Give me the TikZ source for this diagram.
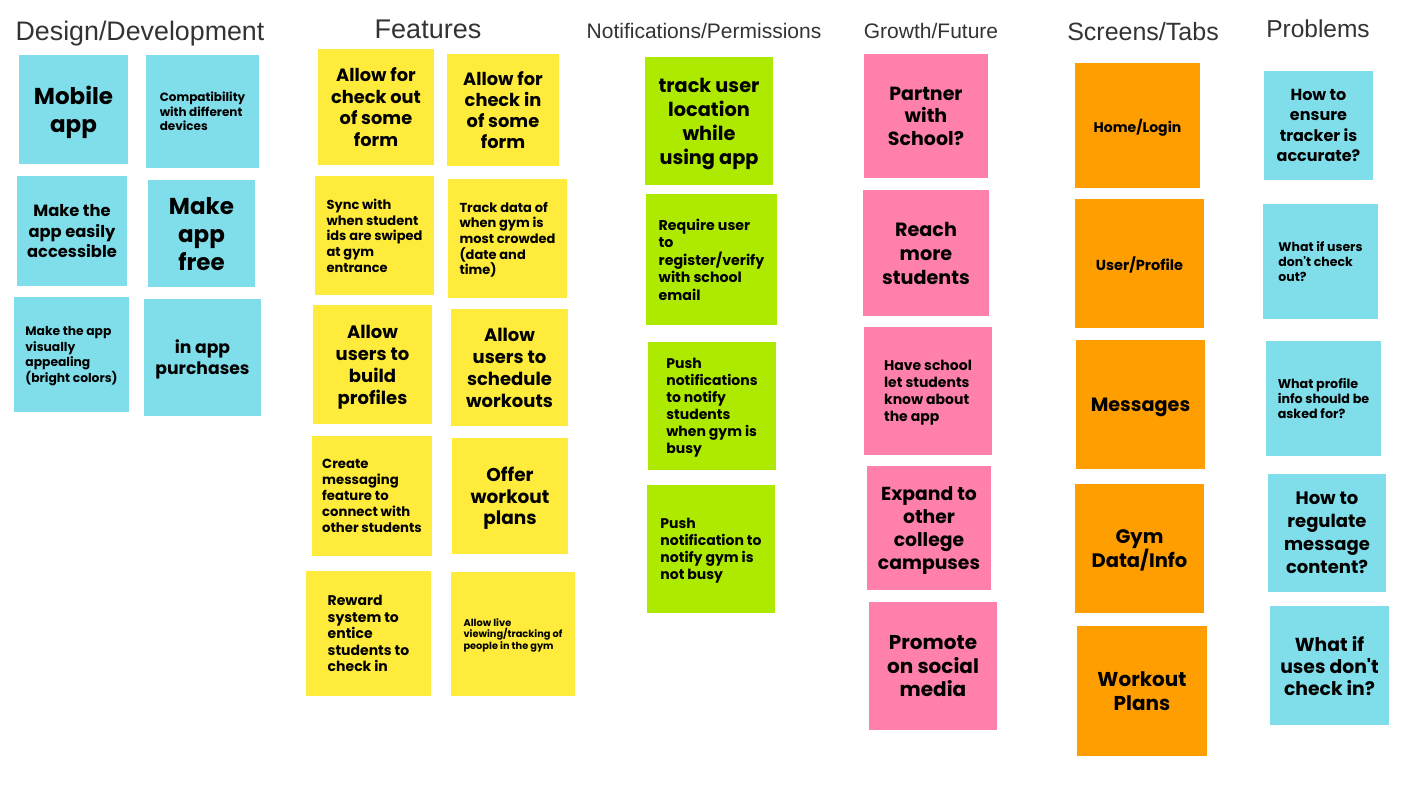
\documentclass[tikz,border=0pt]{standalone}
\usepackage{fontspec}
\setmainfont{Liberation Sans}
\newfontfamily\notefont{Poppins}
\newfontfamily\headfont{Liberation Sans}
\usepackage{xcolor}
\definecolor{headgray}{HTML}{333333}
\definecolor{cyannote}{HTML}{80DEEA}
\definecolor{yellownote}{HTML}{FFEB3B}
\definecolor{greennote}{HTML}{AEEA00}
\definecolor{pinknote}{HTML}{FF80AB}
\definecolor{orangenote}{HTML}{FF9E00}

\begin{document}
\begin{tikzpicture}[x=1pt, y=-1pt,
  heading/.style={anchor=base, text=headgray, inner sep=0pt, font=\headfont\fontsize{#1}{#1}\selectfont},
  note/.style={rectangle, inner sep=0pt, text depth=0pt, text=black, align=center},
  sq/.style={minimum width=#1, minimum height=#1},
  fs/.style 2 args={font=\notefont\bfseries\fontsize{#1}{#2}\selectfont}]
  \fill[white] (0,0) rectangle (1422,800);
  \useasboundingbox (0,0) rectangle (1422,800);

  \node[heading=26.8] (hdesign) at (140,41) {Design/Development};
  \node[heading=27] (hfeatures) at (428,38.5) {Features};
  \node[heading=21] (hnotify) at (704,38.5) {Notifications/Permissions};
  \node[heading=21] (hgrowth) at (931,38.5) {Growth/Future};
  \node[heading=25] (hscreens) at (1143,40.5) {Screens/Tabs};
  \node[heading=24.5] (hproblems) at (1318,37.5) {Problems};

  \node[note, fill=cyannote, sq=109, fs={23}{28}] (dmobile) at (73.5,109.5) {Mobile\\app};
  \node[note, fill=cyannote, sq=113, fs={12}{14.5}, align=left] (dcompat) at (202.5,111.5) {Compatibility\\with different\\devices};
  \node[note, fill=cyannote, sq=110, fs={16.3}{20.5}] (daccess) at (72,231) {Make the\\app easily\\accessible};
  \node[note, fill=cyannote, sq=107, fs={23}{28}] (dfree) at (201.5,233.5) {Make\\app\\free};
  \node[note, fill=cyannote, sq=115, fs={12.3}{15.5}, align=left] (dvisual) at (71.5,354.5) {Make the app\\visually\\appealing\\(bright colors)};
  \node[note, fill=cyannote, sq=117, fs={17.2}{21}] (dpurchase) at (202.5,357.5) {in app\\purchases};

  \node[note, fill=yellownote, sq=116, fs={17.8}{21.5}] (fcheckout) at (376,107) {Allow for\\check out\\of some\\form};
  \node[note, fill=yellownote, sq=112, fs={17.8}{21}] (fcheckin) at (503,110) {Allow for\\check in\\of some\\form};
  \node[note, fill=yellownote, sq=119, fs={13}{15.7}, align=left] (fsync) at (374.5,235.5) {Sync with\\when student\\ids are swiped\\at gym\\entrance};
  \node[note, fill=yellownote, sq=119, fs={13}{15.7}, align=left] (ftrack) at (507.5,238.5) {Track data of\\when gym is\\most crowded\\(date and\\time)};
  \node[note, fill=yellownote, sq=119, fs={18}{22}] (fprofile) at (372.5,364.5) {Allow\\users to\\build\\profiles};
  \node[note, fill=yellownote, sq=117, fs={18}{22}] (fschedule) at (509.5,367.5) {Allow\\users to\\schedule\\workouts};
  \node[note, fill=yellownote, sq=120, fs={13.2}{16}, align=left] (fmessage) at (372,496) {Create\\messaging\\feature to\\connect with\\other students};
  \node[note, fill=yellownote, sq=116, fs={18.5}{21.5}] (fplans) at (510,496) {Offer\\workout\\plans};
  \node[note, fill=yellownote, sq=125, fs={14}{16.5}, align=left] (freward) at (368.5,633.5) {Reward\\system to\\entice\\students to\\check in};
  \node[note, fill=yellownote, sq=124, fs={9.8}{11.5}, align=left] (flive) at (513,634) {Allow live\\viewing/tracking of\\people in the gym};

  \node[note, fill=greennote, sq=128, fs={19.3}{24}] (nlocation) at (709,121) {track user\\location\\while\\using app};
  \node[note, fill=greennote, sq=131, fs={14.2}{17.5}, align=left] (nregister) at (711.5,259.5) {Require user\\to\\register/verify\\with school\\email};
  \node[note, fill=greennote, sq=128, fs={14}{17}, align=left] (nbusy) at (712,406) {Push\\notifications\\to notify\\students\\when gym is\\busy};
  \node[note, fill=greennote, sq=128, fs={14}{17}, align=left] (nnotbusy) at (711,549) {Push\\notification to\\notify gym is\\not busy};

  \node[note, fill=pinknote, sq=124, fs={19}{22.5}] (gpartner) at (926,116) {Partner\\with\\School?};
  \node[note, fill=pinknote, sq=126, fs={19.2}{24}] (greach) at (926,253) {Reach\\more\\students};
  \node[note, fill=pinknote, sq=128, fs={14}{17}, align=left] (gschool) at (928,391) {Have school\\let students\\know about\\the app};
  \node[note, fill=pinknote, sq=124, fs={18.8}{23.3}] (gexpand) at (929,528) {Expand to\\other\\college\\campuses};
  \node[note, fill=pinknote, sq=128, fs={20}{23.5}] (gpromote) at (933,666) {Promote\\on social\\media};

  \node[note, fill=orangenote, sq=125, fs={14}{16}] (shome) at (1137.5,125.5) {Home/Login};
  \node[note, fill=orangenote, sq=129, fs={14.5}{17}] (sprofile) at (1139.5,263.5) {User/Profile};
  \node[note, fill=orangenote, sq=129, fs={19.2}{23}] (smessage) at (1140.5,404.5) {Messages};
  \node[note, fill=orangenote, sq=129, fs={19.5}{23}] (sgym) at (1139.5,548.5) {Gym\\Data/Info};
  \node[note, fill=orangenote, sq=130, fs={20}{24}] (splans) at (1142,691) {Workout\\Plans};

  \node[note, fill=cyannote, sq=109, fs={16}{20.5}] (paccurate) at (1318.5,125.5) {How to\\ensure\\tracker is\\accurate?};
  \node[note, fill=cyannote, sq=115, fs={12.5}{15}, align=left] (pcheckout) at (1320.5,261.5) {What if users\\don't check\\out?};
  \node[note, fill=cyannote, sq=115, fs={12.7}{15}, align=left] (pinfo) at (1323.5,398.5) {What profile\\info should be\\asked for?};
  \node[note, fill=cyannote, sq=118, fs={18}{23}] (pregulate) at (1327,533) {How to\\regulate\\message\\content?};
  \node[note, fill=cyannote, sq=119, fs={18.8}{22}] (pcheckin) at (1329.5,665.5) {What if\\uses don't\\check in?};
\end{tikzpicture}
\end{document}
